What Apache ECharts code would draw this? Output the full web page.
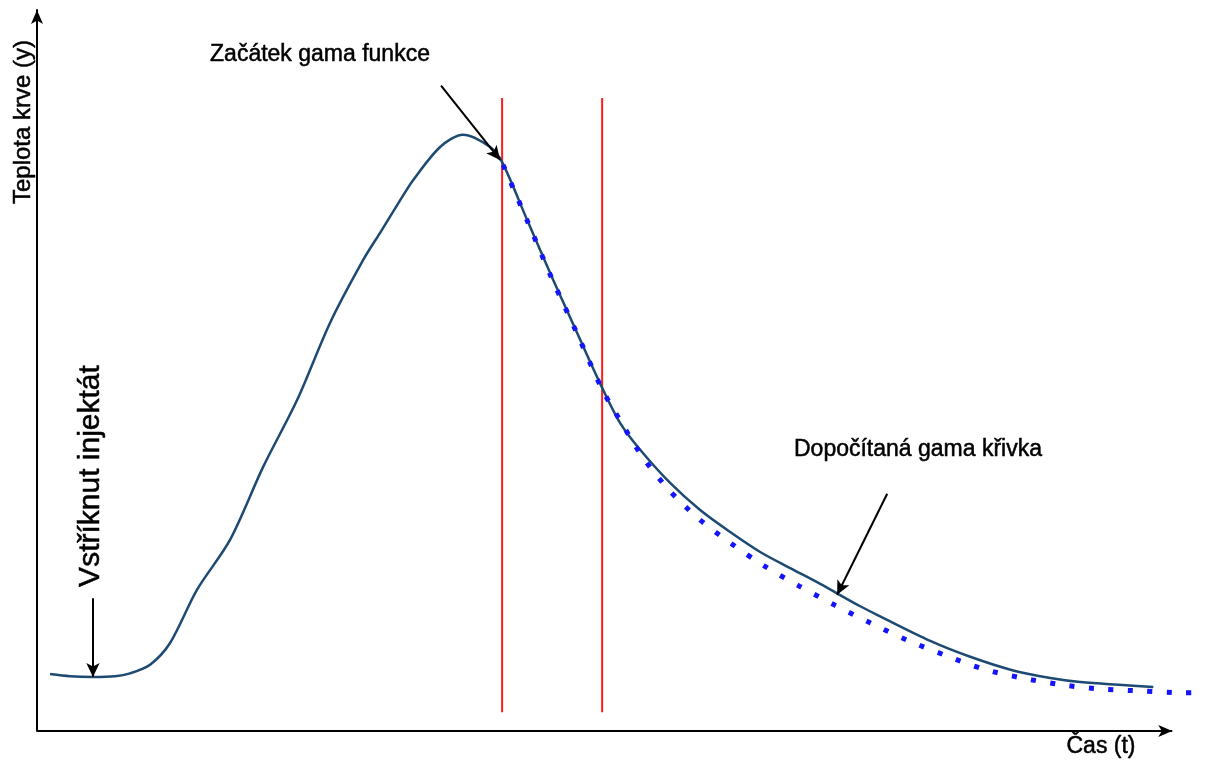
<!DOCTYPE html>
<html>
<head>
<meta charset="utf-8">
<script src="https://cdn.jsdelivr.net/npm/echarts@6/dist/echarts.min.js"></script>
<style>
  html, body { margin: 0; padding: 0; background: #fff; }
  #main { width: 1213px; height: 762px; }
</style>
</head>
<body>
<div id="main"></div>
<script>
// měřená křivka (čas, teplota)
var curveT = [1.15, 2.91, 4.93, 6.87, 8.19, 9.96, 11.72, 14.1, 17.0, 19.91, 22.91, 25.81, 28.72, 30.22, 31.98, 33.13, 35.51, 37.53, 39.91, 40.97, 43.17, 45.46, 47.58, 49.78, 51.37, 53.13, 55.77, 58.41, 61.06, 63.7, 66.34, 68.99, 72.51, 74.27, 78.68, 82.2, 85.99, 89.25, 91.89, 98.33];
var curveV = [7.9, 7.6, 7.5, 7.6, 8.0, 9.2, 12.2, 19.6, 26.5, 36.6, 45.9, 56.6, 65.3, 69.1, 73.6, 76.4, 81.0, 82.7, 81.0, 78.9, 70.9, 62.6, 55.2, 47.6, 42.7, 39.0, 34.4, 30.65, 27.6, 24.83, 22.6, 20.4, 17.3, 15.9, 12.5, 10.3, 8.4, 7.35, 6.8, 6.1];

// dopočítaná gama křivka
var gammaT = [41.06, 43.26, 45.37, 47.58, 49.78, 51.54, 53.39, 55.68, 58.24, 61.06, 64.05, 67.14, 70.22, 73.39, 76.65, 80.0, 83.35, 86.78, 90.31, 93.83, 97.36, 100.97, 102.9];
var gammaV = [78.5, 70.5, 62.7, 55.1, 47.4, 42.6, 37.9, 33.4, 29.5, 26.1, 22.9, 20.1, 17.5, 15.0, 12.6, 10.5, 8.6, 7.35, 6.4, 5.8, 5.55, 5.3, 5.3];

// hranice úseku pro fit
var boundT = [40.97, 49.78];
var boundV = [2.6, 87.8];

// osa času končí šipkou
var timeAxisEnd = 100;

// šipky popisků [t0, v0, t1, v1]
var arrows = [
  [35.59, 89.5, 40.79, 79.2],
  [74.89, 32.9, 70.48, 18.9],
  [4.93, 18.4, 4.93, 7.5]
];

var FONT = '"Liberation Sans", Arial, sans-serif';

function pairs(xs, ys) {
  return xs.map(function (x, i) { return [x, ys[i]]; });
}

function label(text, x, y, size, rot) {
  return {
    type: 'text', x: x, y: y, rotation: rot || 0,
    style: {
      text: text, fontSize: size, fontFamily: FONT,
      fill: '#000', stroke: '#000', lineWidth: 0.5,
      align: 'center', verticalAlign: 'middle'
    }
  };
}

var chart = echarts.init(document.getElementById('main'));

var series = [{
  name: 'krivka',
  type: 'line',
  data: pairs(curveT, curveV),
  smooth: 0.3,
  showSymbol: false,
  z: 3,
  lineStyle: { color: '#1d4a72', width: 2.5 }
}, {
  name: 'gama',
  type: 'line',
  data: pairs(gammaT, gammaV),
  smooth: 0.3,
  showSymbol: false,
  z: 4,
  lineStyle: { color: '#1414ff', width: 5, type: [5, 14.5], cap: 'butt' }
}];

boundT.forEach(function (t) {
  series.push({
    type: 'line',
    data: [[t, boundV[0]], [t, boundV[1]]],
    showSymbol: false,
    z: 2,
    lineStyle: { color: '#ff1a1a', width: 2 }
  });
});

// osa x + šipky popisků
series.push({
  type: 'line',
  data: [],
  markLine: {
    silent: true,
    animation: false,
    symbol: ['none', 'arrow'],
    label: { show: false },
    lineStyle: { color: '#000', width: 2, type: 'solid' },
    data: [[
      { coord: [0, 0], symbolSize: [9, 14] },
      { coord: [timeAxisEnd, 0], symbolSize: [9, 14] }
    ]].concat(arrows.map(function (a) {
      return [{ coord: [a[0], a[1]], symbolSize: [10, 14] }, { coord: [a[2], a[3]], symbolSize: [10, 14] }];
    }))
  }
});

var option = {
  animation: false,
  backgroundColor: '#fff',
  grid: { left: 37, right: 1, top: 10, bottom: 31 },
  xAxis: {
    type: 'value',
    min: 0,
    max: 103.5,
    axisLine: { show: false },
    axisTick: { show: false },
    axisLabel: { show: false },
    splitLine: { show: false }
  },
  yAxis: {
    type: 'value',
    min: 0,
    max: 100,
    axisLine: {
      show: true,
      symbol: ['none', 'arrow'],
      symbolSize: [9, 14],
      lineStyle: { color: '#000', width: 2 }
    },
    axisTick: { show: false },
    axisLabel: { show: false },
    splitLine: { show: false }
  },
  graphic: [
    label('Teplota krve (y)', 23, 122, 24, Math.PI / 2),
    label('Čas (t)', 1101, 747, 23),
    label('Začátek gama funkce', 320, 55, 23),
    label('Dopočítaná gama křivka', 918, 450, 23),
    label('Vstříknut injektát', 91, 476, 30, Math.PI / 2)
  ],
  series: series
};

chart.setOption(option);
</script>
</body>
</html>
